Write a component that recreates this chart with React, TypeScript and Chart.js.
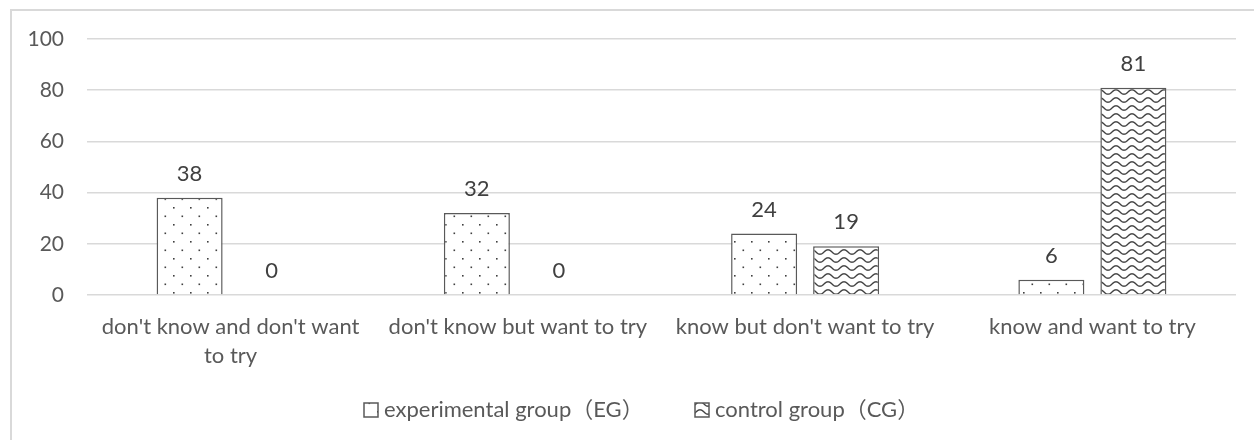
import React, { useEffect, useRef } from "react";
import { Chart, registerables } from "chart.js";

Chart.register(...registerables);

const categories: string[][] = [
  ["don't know and don't want", "to try"],
  ["don't know but want to try"],
  ["know but don't want to try"],
  ["know and want to try"],
];
const egValues = [38, 32, 24, 6];
const cgValues = [0, 0, 19, 81];
const seriesNames = ["experimental group（EG）", "control group（CG）"];
const yTicks = [0, 20, 40, 60, 80, 100];

const FONT = "Lato, 'Noto Sans CJK SC', sans-serif";
const TEXT = "#595959";

function dotPattern(): CanvasPattern | string {
  const c = document.createElement("canvas");
  c.width = 17;
  c.height = 17;
  const g = c.getContext("2d");
  if (!g) return "#fff";
  g.fillStyle = "#ffffff";
  g.fillRect(0, 0, 17, 17);
  g.fillStyle = "#404040";
  g.fillRect(3, 3, 1.6, 1.6);
  g.fillRect(11.5, 11.5, 1.6, 1.6);
  return g.createPattern(c, "repeat") || "#fff";
}

function wavePattern(): CanvasPattern | string {
  const w = 16, h = 8;
  const c = document.createElement("canvas");
  c.width = w;
  c.height = h;
  const g = c.getContext("2d");
  if (!g) return "#fff";
  g.fillStyle = "#ffffff";
  g.fillRect(0, 0, w, h);
  g.strokeStyle = "#404040";
  g.lineWidth = 1.4;
  g.beginPath();
  for (let x = -1; x <= w + 1; x += 0.5) {
    const y = 4 + 2.2 * Math.sin((2 * Math.PI * x) / w);
    if (x === -1) g.moveTo(x, y);
    else g.lineTo(x, y);
  }
  g.stroke();
  return g.createPattern(c, "repeat") || "#fff";
}

const valueLabels = {
  id: "valueLabels",
  afterDatasetsDraw(chart: any) {
    const ctx = chart.ctx;
    ctx.save();
    ctx.font = `22px ${FONT}`;
    ctx.fillStyle = "#404040";
    ctx.textAlign = "center";
    ctx.textBaseline = "middle";
    chart.data.datasets.forEach((ds: any, i: number) => {
      const meta = chart.getDatasetMeta(i);
      meta.data.forEach((bar: any, j: number) => {
        ctx.fillText(String(ds.data[j]), bar.x, bar.y - 24);
      });
    });
    ctx.restore();
  },
};

const customLegend = {
  id: "customLegend",
  afterDraw(chart: any) {
    const ctx = chart.ctx;
    const itemX = [364, 695];
    const cy = 410;
    ctx.save();
    ctx.font = `22px ${FONT}`;
    ctx.textBaseline = "middle";
    ctx.textAlign = "left";
    chart.data.datasets.forEach((ds: any, i: number) => {
      const x = itemX[i];
      ctx.fillStyle = ds.backgroundColor;
      ctx.fillRect(x, cy - 7, 14, 14);
      ctx.strokeStyle = "#595959";
      ctx.lineWidth = 1.5;
      ctx.strokeRect(x, cy - 7, 14, 14);
      ctx.fillStyle = TEXT;
      ctx.fillText(ds.label, x + 20, cy);
    });
    ctx.restore();
  },
};

export default function App() {
  const ref = useRef<HTMLCanvasElement>(null);
  useEffect(() => {
    document.body.style.margin = "0";
    if (!ref.current) return;
    const chart = new Chart(ref.current, {
      type: "bar",
      data: {
        labels: categories,
        datasets: [
          {
            label: seriesNames[0],
            data: egValues,
            backgroundColor: dotPattern() as any,
            borderColor: "#595959",
            borderWidth: 1.5,
            categoryPercentage: 0.571,
            barPercentage: 0.805,
          },
          {
            label: seriesNames[1],
            data: cgValues,
            backgroundColor: wavePattern() as any,
            borderColor: "#595959",
            borderWidth: 1.5,
            categoryPercentage: 0.571,
            barPercentage: 0.805,
          },
        ],
      },
      options: {
        animation: false,
        responsive: false,
        maintainAspectRatio: false,
        layout: { padding: { left: 0, right: 18, top: 39, bottom: 0 } },
        plugins: {
          tooltip: { enabled: false },
          legend: { display: false },
        },
        scales: {
          x: {
            grid: { display: false },
            border: { display: false },
            ticks: {
              color: TEXT,
              padding: 9,
              maxRotation: 0,
              autoSkip: false,
              font: { family: FONT, size: 22, lineHeight: 1.32 },
            },
            afterFit: (s: any) => {
              s.height = 145;
            },
          },
          y: {
            min: 0,
            max: 100,
            afterBuildTicks: (s: any) => {
              s.ticks = yTicks.map((v) => ({ value: v }));
            },
            grid: { color: "#d9d9d9", lineWidth: 1.5, drawTicks: false },
            border: { display: false },
            ticks: {
              color: TEXT,
              padding: 23,
              font: { family: FONT, size: 21 },
            },
            afterFit: (s: any) => {
              s.width = 87;
            },
          },
        },
      },
      plugins: [valueLabels, customLegend],
    });
    return () => chart.destroy();
  }, []);

  return (
    <div
      style={{
        position: "fixed",
        left: 0,
        top: 0,
        width: 1254,
        height: 440,
        overflow: "hidden",
        background: "#fff",
      }}
    >
      <div
        style={{
          position: "absolute",
          left: 10,
          top: 9,
          width: 1300,
          height: 500,
          border: "2px solid #d9d9d9",
          boxSizing: "border-box",
        }}
      />
      <canvas
        ref={ref}
        width={1254}
        height={440}
        style={{ position: "absolute", left: 0, top: 0, width: 1254, height: 440 }}
      />
    </div>
  );
}
